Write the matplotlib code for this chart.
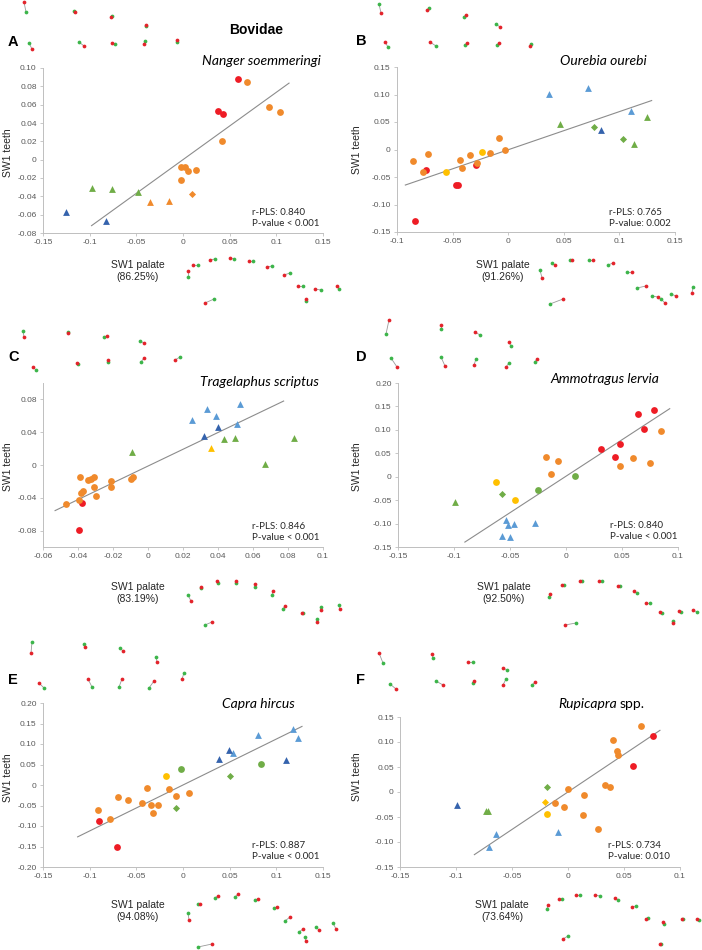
import numpy as np
import matplotlib
matplotlib.use("Agg")
import matplotlib.pyplot as plt

W, H = 702, 950

# ---- scatter data: x, y, group code per panel ----
# group codes: rc red circle, oc orange circle, od orange diamond, ot orange triangle,
# yc yellow circle, yd yellow diamond, yt yellow triangle, gc green circle,
# gd green diamond, gt green triangle, lt light-blue triangle, bt dark-blue triangle
a_x = [0.0586, 0.037, 0.0429, 0.069, 0.092, 0.1036, 0.042, -0.0018, 0.0025, 0.005, 0.0136, -0.0025,
       0.0096, -0.0354, -0.0146, -0.097, -0.076, -0.048, -0.125, -0.083]
a_y = [0.0879, 0.0533, 0.0496, 0.085, 0.057, 0.052, 0.0206, -0.0085, -0.0077, -0.0125, -0.0118, -0.0217,
       -0.037, -0.046, -0.0452, -0.031, -0.032, -0.0357, -0.0566, -0.067]
a_g = ["rc"] * 3 + ["oc"] * 9 + ["od"] + ["ot"] * 2 + ["gt"] * 3 + ["bt"] * 2

b_x = [0.0368, 0.0716, 0.110, 0.0835, 0.0467, 0.1249, 0.1132, 0.0775, 0.1036,
       -0.0856, -0.0722, -0.077, -0.0087, -0.0027, -0.0168, -0.0341, -0.0437, -0.0416, -0.0281,
       -0.0237, -0.056, -0.0743, -0.0455, -0.047, -0.0293, -0.0841]
b_y = [0.1006, 0.111, 0.0707, 0.0354, 0.0463, 0.0598, 0.0104, 0.0409, 0.0189,
       -0.0213, -0.0079, -0.0415, 0.0213, 0.0, -0.0055, -0.0091, -0.0195, -0.0335, -0.0244,
       -0.0037, -0.0415, -0.0378, -0.064, -0.064, -0.0274, -0.1305]
b_g = ["lt"] * 3 + ["bt"] + ["gt"] * 3 + ["gd"] * 2 + ["oc"] * 10 + ["yc"] * 2 + ["rc"] * 5

c_x = [0.025, 0.0336, 0.0389, 0.0523, 0.0511, 0.0401, 0.0322, 0.0437, 0.0498, 0.0836, 0.067, -0.009, 0.036,
       -0.047, -0.039, -0.0392, -0.0384, -0.0371, -0.0342, -0.0323, -0.031, -0.031, -0.0298, -0.0214,
       -0.0209, -0.0098, -0.0088, -0.0379, -0.0396]
c_y = [0.0548, 0.0686, 0.0601, 0.0743, 0.0504, 0.0463, 0.0353, 0.0321, 0.0329, 0.0329, 0.0008, 0.0154, 0.0207,
       -0.0479, -0.015, -0.0426, -0.0337, -0.0313, -0.0183, -0.0175, -0.015, -0.0264, -0.0378, -0.0191,
       -0.0268, -0.0175, -0.0146, -0.0467, -0.0792]
c_g = ["lt"] * 5 + ["bt"] * 2 + ["gt"] * 5 + ["yt"] + ["oc"] * 14 + ["rc"] * 2

d_x = [0.0641, 0.0783, 0.0694, 0.0483, 0.0311, 0.0436, 0.0846, 0.0596, 0.048, 0.0748, -0.0176, -0.0072,
       -0.0134, 0.0077, -0.0253, -0.0571, -0.0995, -0.0621, -0.0458,
       -0.0538, -0.0514, -0.0464, -0.0274, -0.0571, -0.0496]
d_y = [0.1345, 0.1423, 0.1025, 0.069, 0.0598, 0.0427, 0.0975, 0.0391, 0.0221, 0.0292, 0.0413, 0.0335,
       0.0064, 0.0021, -0.0278, -0.0377, -0.0541, -0.0121, -0.0498,
       -0.0925, -0.1039, -0.1004, -0.0989, -0.1267, -0.1288]
d_g = ["rc"] * 6 + ["oc"] * 7 + ["gc"] * 2 + ["gd"] + ["gt"] + ["yc"] * 2 + ["lt"] * 6

e_x = [0.08, 0.1179, 0.1232, 0.0532, 0.0493, 0.0382, 0.1104, 0.0839, -0.0018, 0.0507, -0.0071, -0.0182,
       -0.0389, -0.0154, -0.0071, 0.0068, -0.07, -0.0589, -0.0439, -0.0346, -0.0268, -0.0321, -0.0907,
       -0.0779, -0.09, -0.0711]
e_y = [0.1208, 0.137, 0.1143, 0.0776, 0.0857, 0.0645, 0.0604, 0.0514, 0.04, 0.0229, -0.0555, 0.0229,
       -0.0065, -0.0098, -0.0269, -0.0204, -0.0294, -0.0367, -0.0449, -0.0482, -0.0482, -0.0678, -0.0612,
       -0.0841, -0.089, -0.1502]
e_g = ["lt"] * 4 + ["bt"] * 3 + ["gc"] * 2 + ["gd"] * 2 + ["yc"] + ["oc"] * 12 + ["rc"] * 2

f_x = [0.0652, 0.0399, 0.0438, 0.0446, 0.0333, 0.0372, 0.0003, 0.0146, -0.0119, -0.0039, 0.0131, 0.0265,
       0.0759, 0.0583, -0.0188, -0.0208, -0.019, -0.0991, -0.0729, -0.0715, -0.0646, -0.0705, -0.0089]
f_y = [0.1327, 0.104, 0.082, 0.0747, 0.0147, 0.0093, 0.0067, -0.0053, -0.022, -0.0307, -0.0467, -0.0733,
       0.1127, 0.0513, 0.01, -0.0193, -0.044, -0.0253, -0.0387, -0.0387, -0.0847, -0.11, -0.0807]
f_g = ["oc"] * 12 + ["rc"] * 2 + ["gd"] + ["yd"] + ["yc"] + ["bt"] + ["gt"] * 2 + ["lt"] * 3

# regression line end points
a_line = [(-0.098, 0.1136), (-0.072, 0.0835)]
b_line = [(-0.0925, 0.129), (-0.0646, 0.089)]
c_line = [(-0.0531, 0.0775), (-0.0556, 0.078)]
d_line = [(-0.0903, 0.0926), (-0.1395, 0.1452)]
e_line = [(-0.1129, 0.1275), (-0.1265, 0.1429)]
f_line = [(-0.0836, 0.0821), (-0.1253, 0.1233)]

# axis ticks and labels
x15 = [-0.15, -0.1, -0.05, 0, 0.05, 0.1, 0.15]
x15_lab = ["-0.15", "-0.1", "-0.05", "0", "0.05", "0.1", "0.15"]
x10 = [-0.1, -0.05, 0, 0.05, 0.1, 0.15]
x10_lab = ["-0.1", "-0.05", "0", "0.05", "0.1", "0.15"]
x15b = [-0.15, -0.1, -0.05, 0, 0.05, 0.1]
x15b_lab = ["-0.15", "-0.1", "-0.05", "0", "0.05", "0.1"]
xc = [-0.06, -0.04, -0.02, 0, 0.02, 0.04, 0.06, 0.08, 0.1]
xc_lab = ["-0.06", "-0.04", "-0.02", "0", "0.02", "0.04", "0.06", "0.08", "0.1"]
ya = [-0.08, -0.06, -0.04, -0.02, 0, 0.02, 0.04, 0.06, 0.08, 0.10]
ya_lab = ["-0.08", "-0.06", "-0.04", "-0.02", "0", "0.02", "0.04", "0.06", "0.08", "0.10"]
y15 = [-0.15, -0.10, -0.05, 0, 0.05, 0.10, 0.15]
y15_lab = ["-0.15", "-0.10", "-0.05", "0", "0.05", "0.10", "0.15"]
yc = [-0.08, -0.04, 0, 0.04, 0.08]
yc_lab = ["-0.08", "-0.04", "0", "0.04", "0.08"]
yd = [-0.15, -0.10, -0.05, 0, 0.05, 0.10, 0.15, 0.20]
yd_lab = ["-0.15", "-0.10", "-0.05", "0", "0.05", "0.10", "0.15", "0.20"]
ye = [-0.20, -0.15, -0.10, -0.05, 0, 0.05, 0.10, 0.15, 0.20]
ye_lab = ["-0.20", "-0.15", "-0.10", "-0.05", "0", "0.05", "0.10", "0.15", "0.20"]

stats = ["r-PLS: 0.840\nP-value < 0.001", "r-PLS: 0.765\nP-value: 0.002", "r-PLS: 0.846\nP-value < 0.001",
         "r-PLS: 0.840\nP-value < 0.001", "r-PLS: 0.887\nP-value < 0.001", "r-PLS: 0.734\nP-value: 0.010"]
palate_pct = ["86.25%", "91.26%", "83.19%", "92.50%", "94.08%", "73.64%"]

# landmark pairs (red x, red y, green x, green y) in figure pixels
lm_a_top = [(24, 2, 26, 12), (75, 12, 74, 11), (111, 17, 112, 16), (146, 25, 146, 26), (32, 49, 29, 43),
            (84, 46, 79, 42), (112, 43, 115, 44), (144, 44, 145, 41), (177, 40, 177, 42)]
lm_b_top = [(381, 13, 379, 4), (427, 10, 429, 8), (466, 15, 464, 17), (500, 27, 496, 24), (385, 42, 388, 47),
            (430, 42, 436, 46), (467, 43, 465, 45), (499, 43, 497, 45), (530, 46, 531, 44)]
lm_a_bot = [(188, 271, 188, 277), (193, 265, 198, 265), (210, 260, 215, 259), (230, 258, 234, 259),
            (249, 261, 253, 261), (267, 267, 272, 266), (284, 275, 290, 273), (298, 286, 303, 286),
            (315, 289, 321, 290), (337, 286, 339, 289), (306, 299, 306, 301), (205, 303, 214, 299)]
lm_b_bot = [(542, 278, 540, 270), (555, 265, 552, 263), (572, 260, 570, 260), (593, 260, 589, 260),
            (613, 263, 608, 265), (632, 272, 627, 272), (646, 286, 637, 288), (658, 297, 652, 296),
            (665, 303, 661, 299), (676, 296, 671, 294), (692, 293, 693, 287), (563, 299, 550, 304)]
lm_c_top = [(24, 337, 23, 331), (68, 333, 68, 332), (107, 336, 104, 337), (144, 343, 140, 341), (33, 367, 36, 370),
            (77, 363, 78, 364), (108, 360, 108, 362), (144, 358, 141, 362), (175, 360, 180, 357)]
lm_d_top = [(389, 320, 386, 334), (441, 325, 441, 329), (475, 332, 480, 335), (509, 342, 511, 346),
            (397, 367, 391, 358), (445, 366, 441, 357), (474, 365, 476, 359), (506, 367, 509, 363),
            (537, 359, 535, 362)]
lm_c_bot = [(191, 601, 188, 595), (201, 587, 201, 588), (217, 581, 218, 583), (236, 581, 236, 583),
            (255, 584, 255, 587), (273, 591, 272, 595), (285, 606, 283, 609), (302, 613, 303, 613),
            (321, 610, 321, 607), (340, 609, 339, 605), (212, 622, 205, 625), (317, 622, 317, 619)]
lm_d_bot = [(550, 594, 549, 597), (562, 585, 564, 585), (580, 581, 582, 581), (599, 581, 602, 581),
            (618, 586, 620, 586), (634, 591, 637, 593), (646, 603, 650, 603), (660, 612, 662, 613),
            (679, 611, 681, 612), (693, 610, 697, 612), (673, 623, 673, 621), (565, 625, 576, 623)]
lm_e_top = [(31, 653, 32, 642), (85, 647, 84, 644), (123, 651, 120, 648), (157, 662, 156, 657), (39, 683, 44, 688),
            (88, 679, 92, 687), (122, 679, 119, 687), (154, 681, 149, 688), (182, 679, 184, 673)]
lm_f_top = [(379, 653, 383, 663), (432, 654, 433, 658), (468, 662, 473, 662), (503, 668, 507, 670),
            (396, 689, 390, 684), (443, 685, 436, 681), (474, 681, 473, 683), (503, 685, 506, 679),
            (535, 682, 532, 685)]
lm_e_bot = [(189, 920, 188, 913), (200, 904, 198, 904), (218, 896, 215, 898), (238, 894, 235, 897),
            (258, 899, 255, 900), (277, 907, 274, 908), (290, 917, 285, 921), (303, 929, 299, 932),
            (319, 930, 316, 927), (336, 929, 333, 923), (306, 941, 305, 937), (212, 944, 198, 947)]
lm_f_bot = [(548, 905, 547, 909), (559, 899, 562, 899), (576, 895, 580, 895), (595, 895, 600, 896),
            (615, 898, 618, 900), (632, 907, 636, 906), (646, 919, 648, 918), (663, 922, 664, 924),
            (682, 919, 683, 919), (697, 919, 699, 920), (660, 944, 661, 944), (563, 939, 568, 936)]

styles = {
    "rc": ("#ee1c25", "o", 24), "oc": ("#f08a2c", "o", 24), "od": ("#f08a2c", "D", 13),
    "ot": ("#f08a2c", "^", 24), "yc": ("#ffc000", "o", 24), "yd": ("#ffc000", "D", 13),
    "yt": ("#ffc000", "^", 24), "gc": ("#70ad47", "o", 24), "gd": ("#70ad47", "D", 13),
    "gt": ("#70ad47", "^", 24), "lt": ("#5b9bd5", "^", 24), "bt": ("#3563ad", "^", 24),
}

fig = plt.figure(figsize=(W / 100, H / 100), dpi=100)
bg = fig.add_axes([0, 0, 1, 1])
bg.set_xlim(0, W)
bg.set_ylim(H, 0)
bg.axis("off")

TICKFONT = "Liberation Sans"
SERIFLESS = "Lato"


def panel(box, xs, ys, gs, line, xlim, ylim, xt, xtl, yt, ytl):
    l, t, r, b = box
    ax = fig.add_axes([l / W, 1 - b / H, (r - l) / W, (b - t) / H])
    ax.patch.set_alpha(0)
    for code in styles:
        px = [x for x, g in zip(xs, gs) if g == code]
        py = [y for y, g in zip(ys, gs) if g == code]
        if px:
            c, m, s = styles[code]
            ax.scatter(px, py, s=s, marker=m, color=c, linewidths=0, zorder=3)
    ax.plot(line[0], line[1], color="#8c8c8c", lw=0.8, zorder=2)
    ax.set_xlim(*xlim)
    ax.set_ylim(*ylim)
    ax.set_xticks(xt)
    ax.set_xticklabels(xtl)
    ax.set_yticks(yt)
    ax.set_yticklabels(ytl)
    for sp in ["top", "right"]:
        ax.spines[sp].set_visible(False)
    for sp in ["left", "bottom"]:
        ax.spines[sp].set_color("#bfbfbf")
        ax.spines[sp].set_linewidth(0.7)
    ax.tick_params(length=2.5, width=0.6, color="#bfbfbf", labelsize=6, labelcolor="#595959", pad=2)
    for lab in ax.get_xticklabels() + ax.get_yticklabels():
        lab.set_fontfamily(TICKFONT)
    return ax


panel((43, 68, 323, 233), a_x, a_y, a_g, a_line, (-0.15, 0.15), (-0.08, 0.10), x15, x15_lab, ya, ya_lab)
panel((397, 67, 675, 232), b_x, b_y, b_g, b_line, (-0.1, 0.15), (-0.15, 0.15), x10, x10_lab, y15, y15_lab)
panel((43, 383, 323, 547), c_x, c_y, c_g, c_line, (-0.06, 0.1), (-0.1, 0.1), xc, xc_lab, yc, yc_lab)
panel((398, 383, 678, 547), d_x, d_y, d_g, d_line, (-0.15, 0.1), (-0.15, 0.20), x15b, x15b_lab, yd, yd_lab)
panel((43, 703, 323, 867), e_x, e_y, e_g, e_line, (-0.15, 0.15), (-0.20, 0.20), x15, x15_lab, ye, ye_lab)
panel((400, 717, 680, 867), f_x, f_y, f_g, f_line, (-0.15, 0.1), (-0.15, 0.15), x15b, x15b_lab, y15, y15_lab)

# landmark diagrams
for lm in [lm_a_top, lm_b_top, lm_a_bot, lm_b_bot, lm_c_top, lm_d_top, lm_c_bot, lm_d_bot,
           lm_e_top, lm_f_top, lm_e_bot, lm_f_bot]:
    for rx, ry, gx, gy in lm:
        bg.plot([rx, gx], [ry, gy], color="#9a9a9a", lw=0.6, zorder=1)
        bg.plot(gx, gy, "o", ms=2.7, color="#3cb54a", mew=0, zorder=2)
        bg.plot(rx, ry, "o", ms=2.7, color="#e3232b", mew=0, zorder=2)

# titles
TS = 10
bg.text(321, 61, "Nanger soemmeringi", style="italic", fontsize=TS, family=SERIFLESS, ha="right", va="center")
bg.text(647, 61, "Ourebia ourebi", style="italic", fontsize=TS, family=SERIFLESS, ha="right", va="center")
bg.text(319, 382, "Tragelaphus scriptus", style="italic", fontsize=TS, family=SERIFLESS, ha="right", va="center")
bg.text(659, 379, "Ammotragus lervia", style="italic", fontsize=TS, family=SERIFLESS, ha="right", va="center")
bg.text(295, 704, "Capra hircus", style="italic", fontsize=TS, family=SERIFLESS, ha="right", va="center")
bg.text(617, 704, "Rupicapra", style="italic", fontsize=TS, family=SERIFLESS, ha="right", va="center")
bg.text(620, 704, "spp.", fontsize=TS, family=SERIFLESS, ha="left", va="center")

# stats, axis labels
stat_pos = [(252, 218), (609, 218), (252, 532), (610, 531), (252, 851), (608, 851)]
xlab_pos = [(138, 271), (503, 271), (138, 593), (504, 593), (138, 911), (502, 911)]
ylab_pos = [(8, 153), (357, 150), (8, 467), (357, 467), (8, 778), (357, 777)]
for i in range(6):
    bg.text(stat_pos[i][0], stat_pos[i][1], stats[i], fontsize=7, family=SERIFLESS, ha="left", va="center",
            color="#262626", linespacing=1.25)
    bg.text(xlab_pos[i][0], xlab_pos[i][1], "SW1 palate\n(" + palate_pct[i] + ")", fontsize=7.5, family=TICKFONT,
            ha="center", va="center", color="#262626", linespacing=1.15)
    bg.text(ylab_pos[i][0], ylab_pos[i][1], "SW1 teeth", fontsize=7.5, family=TICKFONT, rotation=90,
            ha="center", va="center", color="#262626")

for letter, (lx, ly) in zip("ABCDEF", [(8, 42), (356, 41), (8, 357), (356, 357), (8, 680), (356, 680)]):
    bg.text(lx, ly, letter, fontsize=10.5, fontweight="bold", family=TICKFONT, ha="left", va="center")
bg.text(256, 30, "Bovidae", fontsize=10, fontweight="bold", family=TICKFONT, ha="center", va="center")

fig.savefig("out.png", dpi=100)
